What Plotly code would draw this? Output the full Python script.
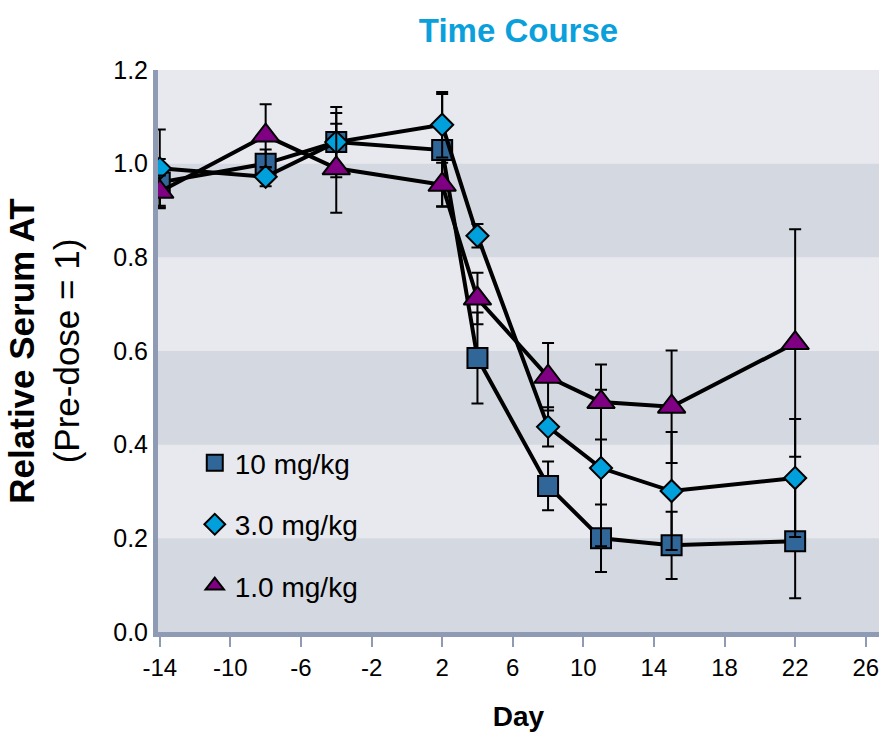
import plotly.graph_objects as go

# Study days
days = [-14, -8, -4, 2, 4, 8, 11, 15, 22]

# Relative serum AT (pre-dose = 1) and error bar half-widths per dose group
at_10 = [0.96, 1.00, 1.046, 1.029, 0.585, 0.312, 0.200, 0.185, 0.194]
err_10 = [0.05, 0.03, 0.075, 0.12, 0.097, 0.052, 0.072, 0.072, 0.122]

at_3 = [0.99, 0.972, 1.046, 1.083, 0.846, 0.438, 0.350, 0.301, 0.329]
err_3 = [0.083, 0.02, 0.062, 0.07, 0.025, 0.042, 0.167, 0.126, 0.126]

at_1 = [0.94, 1.06, 0.99, 0.955, 0.712, 0.545, 0.491, 0.481, 0.617]
err_1 = [0.035, 0.067, 0.095, 0.047, 0.055, 0.072, 0.080, 0.120, 0.243]

labels = ["10 mg/kg", "3.0 mg/kg", "1.0 mg/kg"]
x_ticks = [-14, -10, -6, -2, 2, 6, 10, 14, 18, 22, 26]
y_ticks = [0.0, 0.2, 0.4, 0.6, 0.8, 1.0, 1.2]

series = [
    (at_10, err_10, labels[0], "square", "#316699", 20),
    (at_3, err_3, labels[1], "diamond", "#00a0dc", 17),
    (at_1, err_1, labels[2], "triangle-up", "#7f0082", 24),
]

fig = go.Figure()

# Alternating horizontal bands behind the data
band_dark = "#d4d8e1"
band_light = "#e8e9ef"
for lo, hi in [(0.0, 0.2), (0.4, 0.6), (0.8, 1.0)]:
    fig.add_shape(type="rect", xref="paper", yref="y", x0=0, x1=1, y0=lo, y1=hi,
                  fillcolor=band_dark, line_width=0, layer="below")

for vals, errs, name, sym, col, size in series:
    fig.add_trace(go.Scatter(
        x=days, y=vals, mode="lines+markers", showlegend=False,
        line=dict(color="black", width=4),
        marker=dict(symbol=sym, size=size, color=col,
                    line=dict(color="black", width=2)),
        error_y=dict(type="data", array=errs, visible=True,
                     color="black", thickness=2, width=6),
    ))

# Legend entries (markers only)
for i, (vals, errs, name, sym, col, size) in enumerate(series):
    fig.add_trace(go.Scatter(
        x=[None], y=[None], mode="markers", name=name, legendgroup=str(i),
        marker=dict(symbol=sym, size=size, color=col,
                    line=dict(color="black", width=2)),
    ))

axis_col = "#8f9bb5"
regular = "Liberation Sans, Arial, sans-serif"
tick_font = dict(family=regular, size=25, color="black")

fig.update_layout(
    width=879, height=734,
    margin=dict(l=158, r=0, t=70, b=102),
    paper_bgcolor="white",
    plot_bgcolor=band_light,
    title=dict(text="<b>Time Course</b>", x=(158 + 879) / 2 / 879, xanchor="center",
               y=1 - 30 / 734, yanchor="middle",
               font=dict(family=regular, size=33, color="#0aa0dc")),
    xaxis=dict(range=[-14.1, 26.75], tickvals=x_ticks, ticktext=[str(v) for v in x_ticks],
               showgrid=False, zeroline=False, showline=True, linecolor=axis_col, linewidth=5,
               ticks="outside", ticklen=10, tickwidth=2, tickcolor=axis_col,
               tickfont=dict(family=regular, size=24, color="black"),
               ticklabeloverflow="allow",
               title=dict(text="<b>Day</b>", standoff=28,
                          font=dict(family=regular, size=28, color="black"))),
    yaxis=dict(range=[0, 1.2], tickvals=y_ticks, ticktext=[f"{v:.1f}" for v in y_ticks],
               showgrid=False, zeroline=False, showline=True, linecolor=axis_col, linewidth=5,
               ticks="", tickfont=tick_font,
               title=dict(text="<b>Relative Serum AT</b><br>(Pre-dose = 1)", standoff=24,
                          font=dict(family=regular, size=35, color="black"))),
    legend=dict(x=0.051, y=0.345, xanchor="left", yanchor="top",
                bgcolor="rgba(0,0,0,0)", tracegroupgap=22,
                font=dict(family=regular, size=28, color="black")),
)

fig.write_html("out.html")
